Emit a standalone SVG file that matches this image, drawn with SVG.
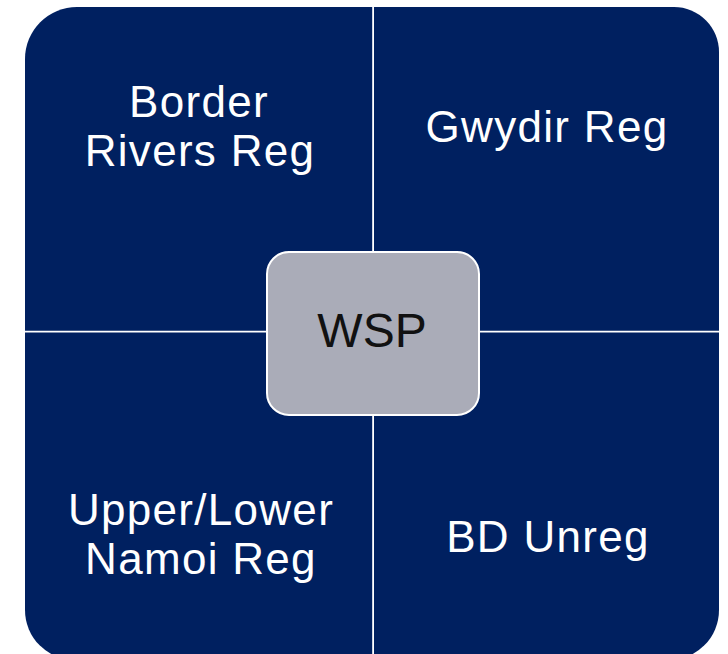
<svg xmlns="http://www.w3.org/2000/svg" width="728" height="654" viewBox="0 0 728 654">
  <defs>
    <style>
      .quad { fill: #002060; }
      .qlabel { font-family: "Liberation Sans", Arial, sans-serif; font-size: 44px; letter-spacing: 1.3px; fill: #ffffff; text-anchor: middle; }
      .hub { fill: #AAACB8; stroke: #ffffff; stroke-width: 2; }
      .hublabel { font-family: "Liberation Sans", Arial, sans-serif; font-size: 48px; fill: #111111; text-anchor: middle; }
    </style>
  </defs>
  <rect width="728" height="654" fill="#ffffff"/>

  <!-- four regions, each rounded only on its outer corner -->
  <g id="border-rivers">
    <path class="quad" d="M25,59 A52,52 0 0 1 77,7 L372.2,7 L372.2,330.8 L25,330.8 Z"/>
    <text class="qlabel" x="199" y="117">Border</text>
    <text class="qlabel" x="200" y="166">Rivers Reg</text>
  </g>
  <g id="gwydir">
    <path class="quad" d="M374,7 L674,7 A45,45 0 0 1 719,52 L719,330.8 L374,330.8 Z"/>
    <text class="qlabel" x="547" y="142">Gwydir Reg</text>
  </g>
  <g id="namoi">
    <path class="quad" d="M25,332.6 L372.2,332.6 L372.2,660 L75,660 A50,50 0 0 1 25,610 Z"/>
    <text class="qlabel" x="201" y="525">Upper/Lower</text>
    <text class="qlabel" x="201" y="574">Namoi Reg</text>
  </g>
  <g id="bd-unreg">
    <path class="quad" d="M374,332.6 L719,332.6 L719,610 A50,50 0 0 1 669,660 L374,660 Z"/>
    <text class="qlabel" x="548" y="552">BD Unreg</text>
  </g>

  <!-- central plan box -->
  <g id="wsp">
    <rect class="hub" x="267" y="252" width="212" height="163" rx="22" ry="22"/>
    <text class="hublabel" x="372" y="347">WSP</text>
  </g>

  <g id="connectors"></g>
</svg>
